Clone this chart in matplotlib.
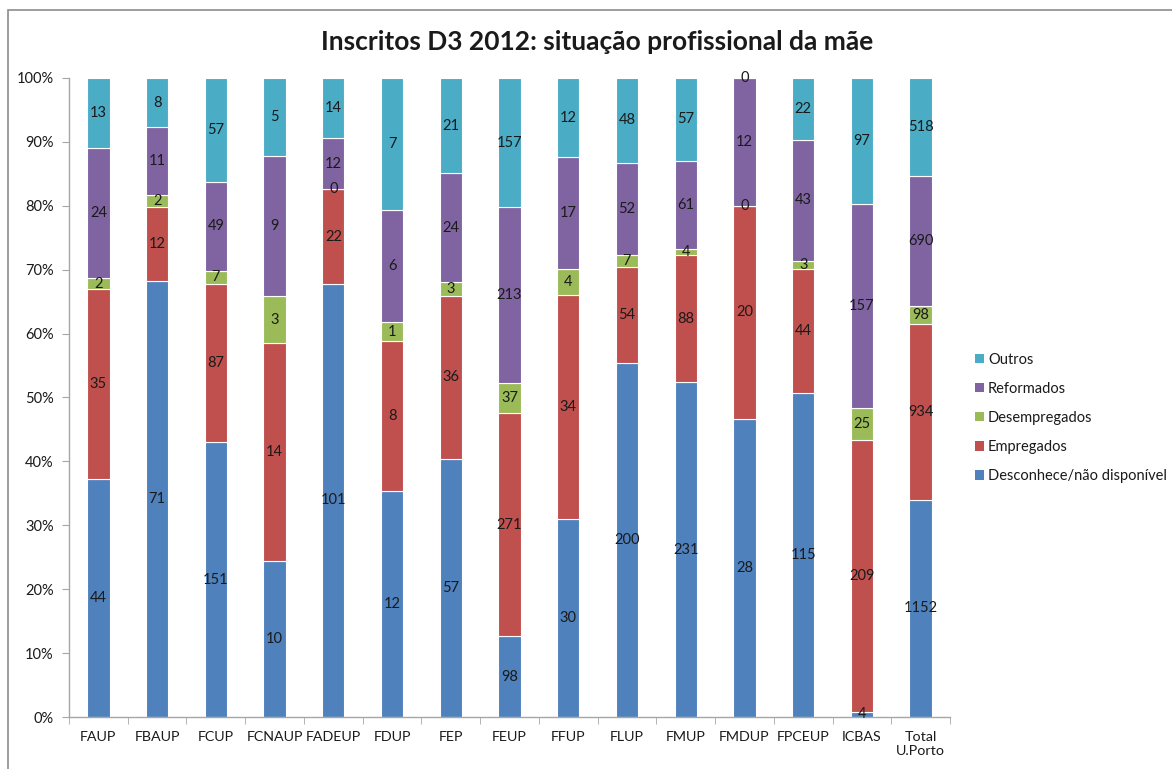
import matplotlib
matplotlib.use("Agg")
import matplotlib.pyplot as plt
import numpy as np
from matplotlib.patches import Patch, Rectangle
from matplotlib.ticker import FixedLocator, PercentFormatter

plt.rcParams["font.family"] = ["Lato", "DejaVu Sans"]

CATEGORIES = ["FAUP", "FBAUP", "FCUP", "FCNAUP", "FADEUP", "FDUP", "FEP", "FEUP",
              "FFUP", "FLUP", "FMUP", "FMDUP", "FPCEUP", "ICBAS", "Total\nU.Porto"]

DESCONHECE = [44, 71, 151, 10, 101, 12, 57, 98, 30, 200, 231, 28, 115, 4, 1152]
EMPREGADOS = [35, 12, 87, 14, 22, 8, 36, 271, 34, 54, 88, 20, 44, 209, 934]
DESEMPREGADOS = [2, 2, 7, 3, 0, 1, 3, 37, 4, 7, 4, 0, 3, 25, 98]
REFORMADOS = [24, 11, 49, 9, 12, 6, 24, 213, 17, 52, 61, 12, 43, 157, 690]
OUTROS = [13, 8, 57, 5, 14, 7, 21, 157, 12, 48, 57, 0, 22, 97, 518]

SERIES = [
    ("Desconhece/não disponível", DESCONHECE, "#4F81BD"),
    ("Empregados", EMPREGADOS, "#C0504D"),
    ("Desempregados", DESEMPREGADOS, "#9BBB59"),
    ("Reformados", REFORMADOS, "#8064A2"),
    ("Outros", OUTROS, "#4BACC6"),
]

TEXT = "#1a1a1a"
AXIS = "#a6a6a6"


def main() -> None:
    fig = plt.figure(figsize=(11.72, 7.69), dpi=100)
    ax = fig.add_axes([0.0589, 0.0676, 0.7517, 0.831])

    # chart-area frame
    fig.patches.append(Rectangle((8 / 1172, -0.01), 1.1, 1 - 10 / 769 + 0.01,
                                 transform=fig.transFigure, fill=False,
                                 edgecolor="#8c8c8c", linewidth=1.2))

    x = np.arange(len(CATEGORIES))
    totals = np.sum([s[1] for s in SERIES], axis=0).astype(float)
    bottom = np.zeros(len(CATEGORIES))
    handles = []
    for name, values, color in SERIES:
        share = np.array(values) / totals * 100
        ax.bar(x, share, width=0.38, bottom=bottom, color=color,
               edgecolor="white", linewidth=0.8, zorder=2)
        for xi, b, h, v in zip(x, bottom, share, values):
            ax.text(xi, b + h / 2, str(v), ha="center", va="center",
                    fontsize=10.5, color=TEXT, zorder=3)
        bottom += share
        handles.append(Patch(facecolor=color, edgecolor="none", label=name))

    ax.set_xlim(-0.5, len(CATEGORIES) - 0.5)
    ax.set_ylim(0, 100)
    ax.yaxis.set_major_locator(FixedLocator(np.arange(0, 101, 10)))
    ax.yaxis.set_major_formatter(PercentFormatter(decimals=0))
    ax.set_xticks(x)
    ax.set_xticklabels(CATEGORIES)
    ax.xaxis.set_minor_locator(FixedLocator(np.arange(-0.5, len(CATEGORIES), 1)))
    ax.tick_params(axis="x", which="major", length=0, pad=10, labelsize=10.3, labelcolor=TEXT)
    ax.tick_params(axis="x", which="minor", length=5, color=AXIS, direction="out")
    ax.tick_params(axis="y", length=5, color=AXIS, labelsize=10.5, labelcolor=TEXT, pad=6)

    for side in ("top", "right"):
        ax.spines[side].set_visible(False)
    for side in ("left", "bottom"):
        ax.spines[side].set_color(AXIS)
        ax.spines[side].set_linewidth(1.0)

    fig.text(597 / 1172, 1 - 42 / 769, "Inscritos D3 2012: situação profissional da mãe",
             ha="center", va="center", fontsize=19, fontweight="bold", color=TEXT)

    ax.legend(handles=handles[::-1], loc="center left",
              bbox_to_anchor=(972 / 1172, 1 - 418 / 769), bbox_transform=fig.transFigure,
              frameon=False, fontsize=10.5, handlelength=0.6, handleheight=0.6,
              handletextpad=0.3, labelspacing=1.03, labelcolor=TEXT,
              borderaxespad=0, borderpad=0.2)

    fig.savefig("out.png", dpi=100)
    plt.close(fig)


if __name__ == "__main__":
    main()
